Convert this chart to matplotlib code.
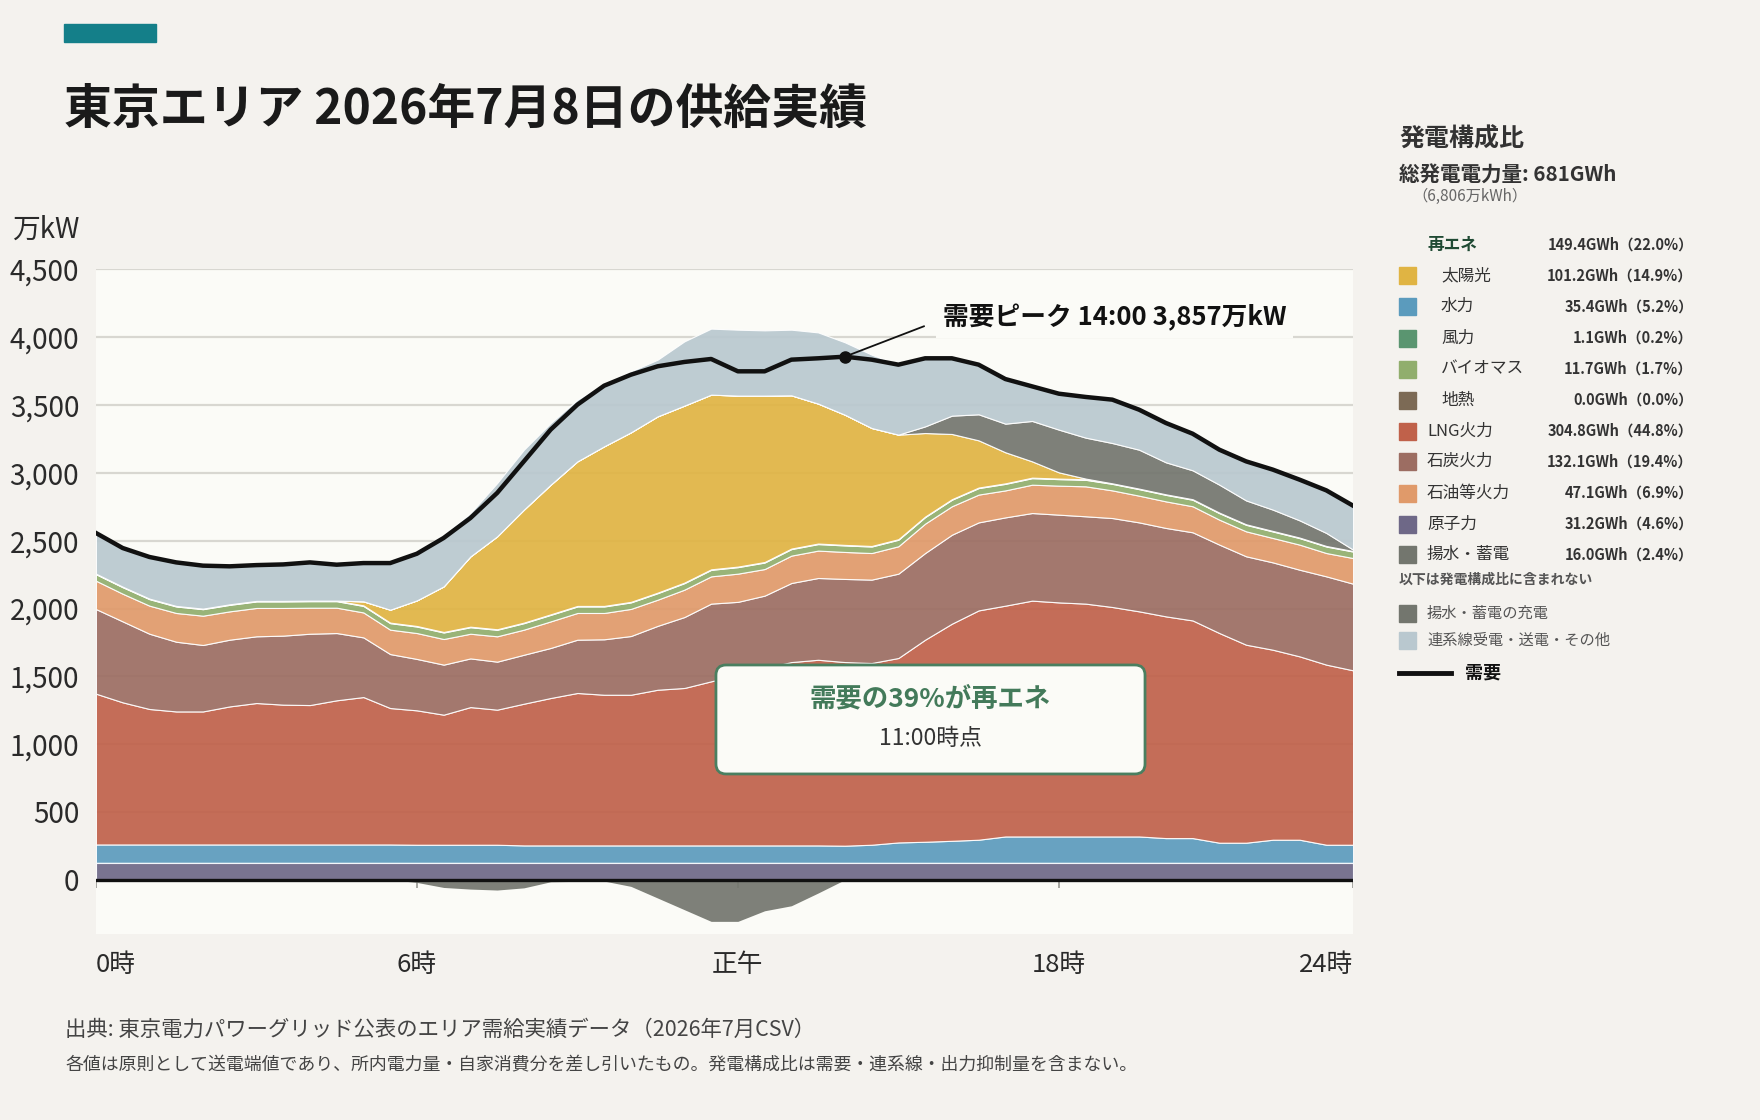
import numpy as np
import matplotlib
matplotlib.use('Agg')
import matplotlib.pyplot as plt
from matplotlib.patches import Rectangle, FancyBboxPatch
from matplotlib.lines import Line2D
from matplotlib.ticker import FuncFormatter

plt.rcParams['font.family'] = ['Noto Sans CJK JP', 'DejaVu Sans']

# 30分値 (万kW), 0:00 ... 23:30
hours = np.arange(0, 24, 0.5)

nuclear = [125, 125, 125, 125, 125, 125, 125, 125, 125, 125, 125, 125,
           125, 125, 125, 125, 125, 125, 125, 125, 125, 125, 125, 125,
           125, 125, 125, 125, 125, 125, 125, 125, 125, 125, 125, 125,
           125, 125, 125, 125, 125, 125, 125, 125, 125, 125, 125, 125]
hydro = [135, 135, 135, 135, 135, 135, 135, 135, 135, 135, 135, 135,
         133, 133, 133, 133, 128, 128, 128, 128, 128, 128, 128, 128,
         128, 128, 128, 128, 126, 133, 150, 155, 162, 170, 194, 194,
         194, 194, 194, 194, 182, 182, 148, 148, 170, 170, 133, 133]
lng = [1112, 1048, 999, 981, 981, 1018, 1043, 1031, 1028, 1063, 1087, 1006,
       991, 959, 1015, 996, 1045, 1087, 1124, 1111, 1111, 1148, 1161, 1210,
       1257, 1307, 1352, 1369, 1354, 1340, 1360, 1490, 1601, 1691, 1702, 1739,
       1726, 1717, 1692, 1660, 1635, 1605, 1546, 1460, 1401, 1352, 1328, 1286]
coal = [624, 597, 555, 514, 490, 492, 492, 509, 526, 496, 440, 398,
        379, 369, 359, 354, 361, 369, 393, 409, 433, 471, 523, 573,
        539, 535, 583, 603, 613, 615, 622, 639, 656, 649, 651, 646,
        647, 644, 656, 656, 652, 650, 652, 652, 644, 639, 651, 639]
oil = [209, 204, 207, 212, 216, 209, 209, 204, 192, 187, 184, 180,
       191, 189, 182, 187, 185, 196, 197, 194, 200, 193, 202, 201,
       208, 196, 202, 202, 199, 196, 202, 217, 210, 205, 199, 209,
       214, 221, 204, 197, 196, 192, 184, 184, 180, 185, 172, 189]
biomass = [48, 48, 48, 48, 48, 48, 48, 48, 48, 48, 48, 48,
           48, 48, 48, 48, 48, 48, 48, 48, 48, 48, 48, 48,
           48, 48, 48, 48, 48, 48, 48, 48, 48, 48, 48, 48,
           48, 48, 48, 48, 48, 48, 48, 48, 48, 48, 48, 48]
wind = [4, 4, 4, 4, 4, 4, 4, 4, 4, 4, 4, 4,
        4, 4, 4, 4, 4, 4, 4, 4, 4, 4, 4, 4,
        4, 4, 4, 4, 4, 4, 4, 4, 4, 4, 4, 4,
        4, 4, 4, 4, 4, 4, 4, 4, 4, 4, 4, 4]
geothermal = [0, 0, 0, 0, 0, 0, 0, 0, 0, 0, 0, 0,
              0, 0, 0, 0, 0, 0, 0, 0, 0, 0, 0, 0,
              0, 0, 0, 0, 0, 0, 0, 0, 0, 0, 0, 0,
              0, 0, 0, 0, 0, 0, 0, 0, 0, 0, 0, 0]
solar = [0, 0, 0, 0, 0, 0, 0, 0, 0, 0, 30, 95,
         189, 336, 518, 685, 833, 956, 1066, 1177, 1250, 1300, 1305, 1288,
         1261, 1227, 1130, 1032, 960, 870, 771, 616, 481, 348, 229, 120,
         46, 5, 0, 0, 0, 0, 0, 0, 0, 0, 0, 0]
pumped = [0, 0, 0, 0, 0, 0, 0, 0, 0, 0, 0, 0,
          0, 0, 0, 0, 0, 0, 0, 0, 0, 0, 0, 0,
          0, 0, 0, 0, 0, 0, 0, 49, 135, 192, 211, 298,
          315, 302, 297, 287, 236, 213, 206, 176, 157, 127, 96, 10]
interconnect = [300, 285, 307, 321, 317, 280, 264, 269, 282, 265, 282, 344,
                360, 382, 320, 393, 442, 455, 455, 462, 450, 418, 474, 487,
                486, 481, 484, 525, 534, 541, 516, 502, 423, 366, 329, 255,
                265, 303, 320, 295, 290, 270, 258, 288, 295, 300, 314, 324]
# 揚水・蓄電の充電 (下向きに描く)
charge = [0, 0, 0, 0, 5, 10, 8, 0, 0, 0, 0, 0,
          20, 57, 69, 76, 60, 15, 12, 10, 49, 135, 221, 307,
          307, 229, 192, 98, 0, 0, 0, 0, 0, 0, 0, 0,
          0, 0, 0, 0, 0, 0, 0, 0, 0, 0, 0, 0]
demand = [2557, 2446, 2380, 2340, 2316, 2311, 2320, 2325, 2340, 2323, 2335, 2335,
          2404, 2520, 2667, 2852, 3085, 3319, 3503, 3643, 3724, 3786, 3818, 3840,
          3749, 3749, 3835, 3845, 3857, 3835, 3798, 3845, 3845, 3798, 3692, 3638,
          3584, 3560, 3540, 3466, 3368, 3289, 3171, 3085, 3024, 2950, 2871, 2758]

# 発電構成比 (凡例)
mix_names = ['太陽光', '水力', '風力', 'バイオマス', '地熱',
             'LNG火力', '石炭火力', '石油等火力', '原子力', '揚水・蓄電']
mix_gwh = [101.2, 35.4, 1.1, 11.7, 0.0, 304.8, 132.1, 47.1, 31.2, 16.0]
mix_pct = [14.9, 5.2, 0.2, 1.7, 0.0, 44.8, 19.4, 6.9, 4.6, 2.4]
renew_gwh, renew_pct = 149.4, 22.0
total_gwh, total_man_kwh = 681, 6806

x_ticks = [0, 6, 12, 18, 23.5]
x_labels = ['0時', '6時', '正午', '18時', '24時']

BG = '#f4f2ee'
PLOT_BG = '#fbfbf7'
C = {
    '太陽光': '#e0b443', '水力': '#5b9bbd', '風力': '#5a9570', 'バイオマス': '#91ae6d',
    '地熱': '#7c6a55', 'LNG火力': '#c0614a', '石炭火力': '#9c6d62', '石油等火力': '#e09a6a',
    '原子力': '#6e6887', '揚水・蓄電': '#73766e', '連系線': '#b9c8cf',
}

fig = plt.figure(figsize=(17.6, 11.2), dpi=100, facecolor=BG)
ax = fig.add_axes([0.0545, 0.1661, 0.7143, 0.5933])
ax.set_facecolor(PLOT_BG)

layers = [nuclear, hydro, lng, coal, oil, biomass, wind, geothermal, solar, pumped, interconnect]
keys = ['原子力', '水力', 'LNG火力', '石炭火力', '石油等火力', 'バイオマス', '風力', '地熱',
        '太陽光', '揚水・蓄電', '連系線']
ax.stackplot(hours, *layers, colors=[C[k] for k in keys], alpha=0.92,
             edgecolor=(1, 1, 1, 0.8), linewidth=0.8, zorder=2)
ax.fill_between(hours, 0, -np.array(charge), color=C['揚水・蓄電'], alpha=0.92,
                lw=0, zorder=2)

# 時刻の目盛り (ゼロ線の下)
ax.vlines(x_ticks, -58, 0, color='#a0a09a', lw=1.3, zorder=1)
ax.axhline(0, color='#111111', lw=2.4, zorder=5)
ax.plot(hours, demand, color='#111111', lw=3.2, zorder=6, solid_joinstyle='round')

ax.set_xlim(0, 23.5)
ax.set_ylim(-400, 4500)
ax.set_yticks(range(0, 4501, 500))
ax.yaxis.set_major_formatter(FuncFormatter(lambda v, p: f'{int(v):,}'))
ax.grid(axis='y', color='#d8d7d1', lw=1.6)
ax.set_axisbelow(True)
ax.tick_params(axis='y', length=0, pad=12, labelsize=20, colors='#2a2a2a')
ax.set_xticks(x_ticks)
ax.set_xticklabels(x_labels)
ax.tick_params(axis='x', length=0, pad=13, labelsize=18.5, colors='#2a2a2a')
xl = ax.get_xticklabels()
xl[0].set_ha('left')
xl[-1].set_ha('right')
for s in ax.spines.values():
    s.set_visible(False)

# 需要ピーク
pk = int(np.argmax(demand))
ax.plot(hours[pk], demand[pk], 'o', color='#111111', ms=8, zorder=7)
ax.annotate('', xy=(hours[pk], demand[pk]), xytext=(15.53, 4089),
            arrowprops=dict(arrowstyle='-', color='#111111', lw=1.3), zorder=7)
h, m = divmod(int(hours[pk] * 60), 60)
ax.text(15.83, 4145, f'需要ピーク {h}:{m:02d} {demand[pk]:,}万kW', fontsize=18.5,
        fontweight='bold', color='#111111', va='center', ha='left', zorder=8,
        bbox=dict(facecolor=PLOT_BG, edgecolor='none', pad=5))

# 再エネ比率の枠
box = FancyBboxPatch((0.4932, 0.2408), 0.3413, 0.164, transform=ax.transAxes,
                     boxstyle='round,pad=0,rounding_size=0.008', mutation_aspect=1.892,
                     facecolor=PLOT_BG, edgecolor='#4a7f60', lw=2, zorder=9)
ax.add_patch(box)
ax.text(0.6635, 0.3537, '需要の39%が再エネ', transform=ax.transAxes, ha='center',
        va='center', fontsize=19, fontweight='bold', color='#437a5a', zorder=10)
ax.text(0.6635, 0.2942, '11:00時点', transform=ax.transAxes, ha='center',
        va='center', fontsize=16.5, color='#333333', zorder=10)

# タイトルまわり
W, H = 1760, 1120
fx = lambda px: px / W
fy = lambda py: 1 - py / H
fig.add_artist(Rectangle((fx(64), fy(42)), 92 / W, 18 / H, transform=fig.transFigure,
                         color='#147f89'))
fig.text(fx(64), fy(109), '東京エリア 2026年7月8日の供給実績', fontsize=34.5,
         fontweight='bold', color='#1a1a1a', va='center')
fig.text(fx(79), fy(230), '万kW', fontsize=20, color='#2a2a2a', ha='right', va='center')

# 右側の凡例
fig.text(fx(1399), fy(139), '発電構成比', fontsize=18, fontweight='bold',
         color='#333333', va='center')
fig.text(fx(1399), fy(175), f'総発電電力量: {total_gwh}GWh', fontsize=14.8,
         fontweight='bold', color='#333333', va='center')
fig.text(fx(1412), fy(196), f'（{total_man_kwh:,}万kWh）', fontsize=11,
         color='#666666', va='center')

row_y = [276, 306.5, 338, 369, 400, 431, 461.5, 493, 524, 554.5]
VX = fx(1693)
fig.text(fx(1427), fy(245), '再エネ', fontsize=12, fontweight='bold',
         color='#1f4a33', va='center')
fig.text(VX, fy(245), f'{renew_gwh:.1f}GWh（{renew_pct:.1f}%）', fontsize=10.5,
         fontweight='bold', color='#333333', va='center', ha='right')
for i, name in enumerate(mix_names):
    y = row_y[i]
    fig.add_artist(Rectangle((fx(1399), fy(y + 8.5)), 17 / W, 17 / H,
                             transform=fig.transFigure, color=C[name]))
    nx = 1441 if i < 5 else 1427
    fig.text(fx(nx), fy(y), name, fontsize=12, color='#333333', va='center')
    fig.text(VX, fy(y), f'{mix_gwh[i]:.1f}GWh（{mix_pct[i]:.1f}%）', fontsize=10.5,
             fontweight='bold', color='#333333', va='center', ha='right')

fig.text(fx(1399), fy(580), '以下は発電構成比に含まれない', fontsize=10,
         fontweight='bold', color='#555555', va='center')
for y, name, col in [(613, '揚水・蓄電の充電', C['揚水・蓄電']),
                     (640, '連系線受電・送電・その他', C['連系線'])]:
    fig.add_artist(Rectangle((fx(1399), fy(y + 8.5)), 17 / W, 17 / H,
                             transform=fig.transFigure, color=col))
    fig.text(fx(1427), fy(y), name, fontsize=11, color='#555555', va='center')
fig.add_artist(Line2D([fx(1399), fx(1451)], [fy(673), fy(673)], transform=fig.transFigure,
                      color='#111111', lw=3.5))
fig.text(fx(1465), fy(673), '需要', fontsize=13, fontweight='bold', color='#111111',
         va='center')

# 出典
fig.text(fx(65), fy(1030), '出典: 東京電力パワーグリッド公表のエリア需給実績データ（2026年7月CSV）',
         fontsize=15.4, color='#444444', va='center')
fig.text(fx(65), fy(1065), '各値は原則として送電端値であり、所内電力量・自家消費分を差し引いたもの。'
         '発電構成比は需要・連系線・出力抑制量を含まない。', fontsize=12.9, color='#444444',
         va='center')

fig.savefig('out.png', dpi=100, facecolor=BG)
